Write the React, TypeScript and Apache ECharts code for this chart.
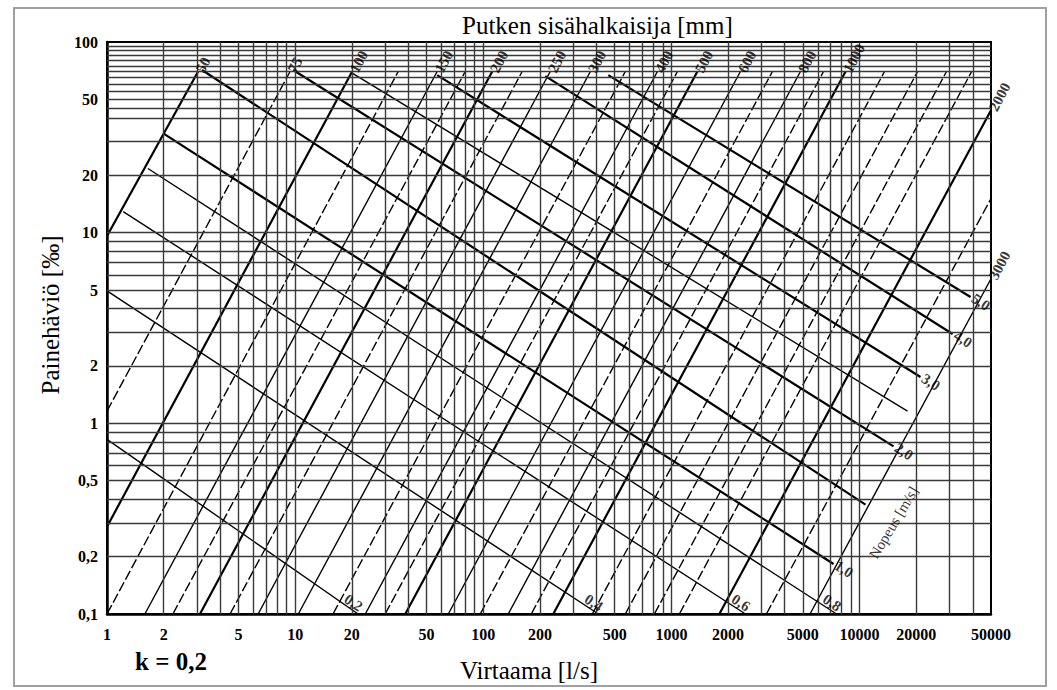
import React, { useEffect, useRef } from 'react';
import * as echarts from 'echarts';

const FONT = '"Liberation Serif", "DejaVu Serif", "Times New Roman", serif';
const INK = '#000000';

// Labelled ticks
const flowTicks = [1, 2, 5, 10, 20, 50, 100, 200, 500, 1000, 2000, 5000, 10000, 20000, 50000];
const lossTicks = [0.1, 0.2, 0.5, 1, 2, 5, 10, 20, 50, 100];

// Grid lines (log paper)
const flowGrid = [2, 3, 4, 5, 6, 7, 8, 9, 10, 20, 30, 40, 50, 60, 70, 80, 90, 100, 200, 300, 400, 500, 600, 700, 800, 900,
  1000, 2000, 3000, 4000, 5000, 6000, 7000, 8000, 9000, 10000, 20000, 30000, 40000];
const lossGrid = [0.2, 0.3, 0.4, 0.5, 0.6, 0.7, 0.8, 0.9, 1, 2, 3, 4, 5, 6, 7, 8, 9, 10, 20, 30, 40, 45, 50, 55, 60, 65,
  70, 75, 80, 85, 90, 95];

// Pipe inner diameter lines [mm]: label ('' = unlabelled), style (h heavy, s solid, d dashed), from, to  [Q l/s, J ‰]
const pipeLabels = ['50', '75', '100', '', '150', '', '200', '', '250', '300', '', '400', '', '500', '600', '', '800', '',
  '1000', '', '', '', '', '2000', '', '3000'];
const pipeStyles = ['h', 'd', 'h', 'd', 's', 'd', 'h', 'd', 's', 's', 'd', 's', 'd', 'h', 's', 'd', 's', 'd',
  'h', 'd', 'd', 'd', 'd', 'h', 'd', 's'];
const pipeFrom: [number, number][] = [
  [1, 9.6], [1, 1.16], [1, 0.287], [1.0, 0.1], [1.59, 0.1], [2.24, 0.1], [3.12, 0.1], [4.51, 0.1], [6.36, 0.1],
  [10.4, 0.1], [15.9, 0.1], [23.6, 0.1], [30.1, 0.1], [38.5, 0.1], [65.2, 0.1], [96.4, 0.1], [135.8, 0.1], [180, 0.1],
  [235.6, 0.1], [380, 0.1], [569, 0.1], [812, 0.1], [1103, 0.1], [1799, 0.1], [3200, 0.1], [5455, 0.1],
];
const pipeTo: [number, number][] = [
  [3.05, 70], [9.4, 70], [20.1, 70], [35.3, 70], [56.9, 70], [80.2, 70], [111.6, 70], [161, 70], [227, 70],
  [371, 70], [569, 70], [843, 70], [1077, 70], [1375, 70], [2328, 70], [3444, 70], [4853, 70], [6439, 70],
  [8430, 70], [13580, 70], [20360, 70], [29000, 70], [39440, 70], [50000, 43.9], [50000, 15.1], [50000, 5.73],
];

// Velocity lines [m/s]
const velLabels = ['0,2', '0,4', '0,6', '0,8', '1,0', '', '2,0', '', '3,0', '4,0', '5,0'];
const velHeavy = [false, false, false, false, true, true, true, false, true, true, true];
const velFrom: [number, number][] = [
  [1, 0.824], [1, 4.95], [1.22, 12.9], [1.65, 21.7], [1.99, 33.2], [3.2, 71.3], [9.76, 71.3], [20.1, 68.7],
  [56.9, 67.0], [213.8, 66.2], [462, 67.0],
];
const velTo: [number, number][] = [
  [21.6, 0.1], [409, 0.1], [2475, 0.1], [7550, 0.1], [7278, 0.183], [10760, 0.375], [15170, 0.757], [17990, 1.16],
  [21100, 1.75], [31250, 2.94], [38930, 4.6],
];
const velocityCaption: [number, number] = [15170, 0.301];

const fmt = (v: number) => String(+Number(v).toPrecision(6)).replace('.', ',');

export default function App() {
  const ref = useRef<HTMLDivElement>(null);
  useEffect(() => {
    document.body.style.margin = '0';
    if (!ref.current) return;
    const chart = echarts.init(ref.current, undefined, { renderer: 'svg' });

    const series: any[] = [];
    series.push({
      type: 'line',
      data: [],
      silent: true,
      z: 1,
      markLine: {
        silent: true,
        symbol: ['none', 'none'],
        label: { show: false },
        emphasis: { disabled: true },
        lineStyle: { color: '#3a3a3a', width: 1.4, type: 'solid' },
        data: [...flowGrid.map((v) => ({ xAxis: v })), ...lossGrid.map((v) => ({ yAxis: v }))],
      },
    });

    pipeLabels.forEach((_, i) => {
      const st = pipeStyles[i];
      series.push({
        type: 'line',
        data: [pipeFrom[i], pipeTo[i]],
        showSymbol: false,
        symbol: 'none',
        silent: true,
        z: 3,
        lineStyle: {
          color: INK,
          width: st === 'h' ? 2.2 : 1.4,
          type: st === 'd' ? [10, 3] : 'solid',
        },
      });
    });

    velLabels.forEach((_, i) => {
      series.push({
        type: 'line',
        data: [velFrom[i], velTo[i]],
        showSymbol: false,
        symbol: 'none',
        silent: true,
        z: 3,
        lineStyle: { color: INK, width: velHeavy[i] ? 2.2 : 1.4, type: 'solid' },
      });
    });

    // pipe labels at upper ends
    series.push({
      type: 'scatter',
      symbolSize: 1,
      silent: true,
      z: 5,
      itemStyle: { color: 'rgba(0,0,0,0)' },
      data: pipeLabels
        .map((lab, i) => ({ name: lab, value: pipeTo[i] }))
        .filter((d) => d.name),
      label: {
        show: true,
        formatter: '{b}',
        position: 'right',
        distance: 1,
        rotate: 62,
        fontFamily: FONT,
        fontSize: 15,
        fontWeight: 'bold',
        color: INK,
      },
    });

    // velocity labels
    series.push({
      type: 'scatter',
      symbolSize: 1,
      silent: true,
      z: 5,
      itemStyle: { color: 'rgba(0,0,0,0)' },
      data: velLabels
        .map((lab, i) => ({
          name: lab,
          value: velTo[i],
          label:
            velTo[i][1] <= 0.1
              ? { position: 'inside', offset: [-10, -7] }
              : { position: 'right', distance: 2 },
        }))
        .filter((d) => d.name),
      label: {
        show: true,
        formatter: '{b}',
        rotate: -33,
        fontFamily: FONT,
        fontSize: 15,
        fontWeight: 'bold',
        color: INK,
      },
    });

    series.push({
      type: 'scatter',
      symbolSize: 1,
      silent: true,
      z: 5,
      itemStyle: { color: 'rgba(0,0,0,0)' },
      data: [{ name: 'Nopeus [m/s]', value: velocityCaption }],
      label: {
        show: true,
        formatter: '{b}',
        position: 'inside',
        rotate: 59,
        fontFamily: FONT,
        fontSize: 15,
        color: INK,
      },
    });

    const axisLabelBase = {
      fontFamily: FONT,
      fontSize: 16,
      fontWeight: 'bold',
      color: INK,
      formatter: (v: number) => fmt(v),
    };

    chart.setOption({
      animation: false,
      backgroundColor: '#ffffff',
      title: {
        text: 'Putken sisähalkaisija [mm]',
        left: 462,
        top: 13,
        padding: 0,
        textStyle: { fontFamily: FONT, fontSize: 25, fontWeight: 'normal', color: INK },
      },
      grid: {
        left: 107,
        top: 42,
        width: 884,
        height: 572,
        show: true,
        borderColor: INK,
        borderWidth: 2,
        backgroundColor: 'transparent',
      },
      xAxis: {
        type: 'log',
        logBase: 10,
        min: 1,
        max: 50000,
        axisLine: { show: true, onZero: false, lineStyle: { color: INK, width: 2.5 } },
        axisTick: { show: false },
        splitLine: { show: false },
        minorSplitLine: { show: false },
        axisLabel: { ...axisLabelBase, margin: 12, customValues: flowTicks },
        name: 'Virtaama [l/s]',
        nameLocation: 'middle',
        nameGap: 44,
        nameTextStyle: { fontFamily: FONT, fontSize: 25, color: INK, padding: [0, 40, 0, 0] },
      },
      yAxis: {
        type: 'log',
        logBase: 10,
        min: 0.1,
        max: 100,
        axisLine: { show: true, onZero: false, lineStyle: { color: INK, width: 2.5 } },
        axisTick: { show: false },
        splitLine: { show: false },
        minorSplitLine: { show: false },
        axisLabel: { ...axisLabelBase, margin: 9, customValues: lossTicks },
        name: 'Painehäviö [‰]',
        nameLocation: 'middle',
        nameGap: 32,
        nameTextStyle: { fontFamily: FONT, fontSize: 25, color: INK, padding: [0, 0, 0, 26] },
      },
      graphic: [
        {
          type: 'rect',
          silent: true,
          shape: { x: 14, y: 8, width: 1032, height: 678 },
          style: { fill: 'none', stroke: '#a0a0a0', lineWidth: 2 },
        },
        {
          type: 'text',
          silent: true,
          x: 135,
          y: 661,
          style: {
            text: 'k = 0,2',
            font: `bold 25px ${FONT}`,
            fill: INK,
            textVerticalAlign: 'middle',
            verticalAlign: 'middle',
          },
        },
      ],
      series,
    });

    return () => chart.dispose();
  }, []);

  return <div ref={ref} style={{ width: 1057, height: 690 }} />;
}
